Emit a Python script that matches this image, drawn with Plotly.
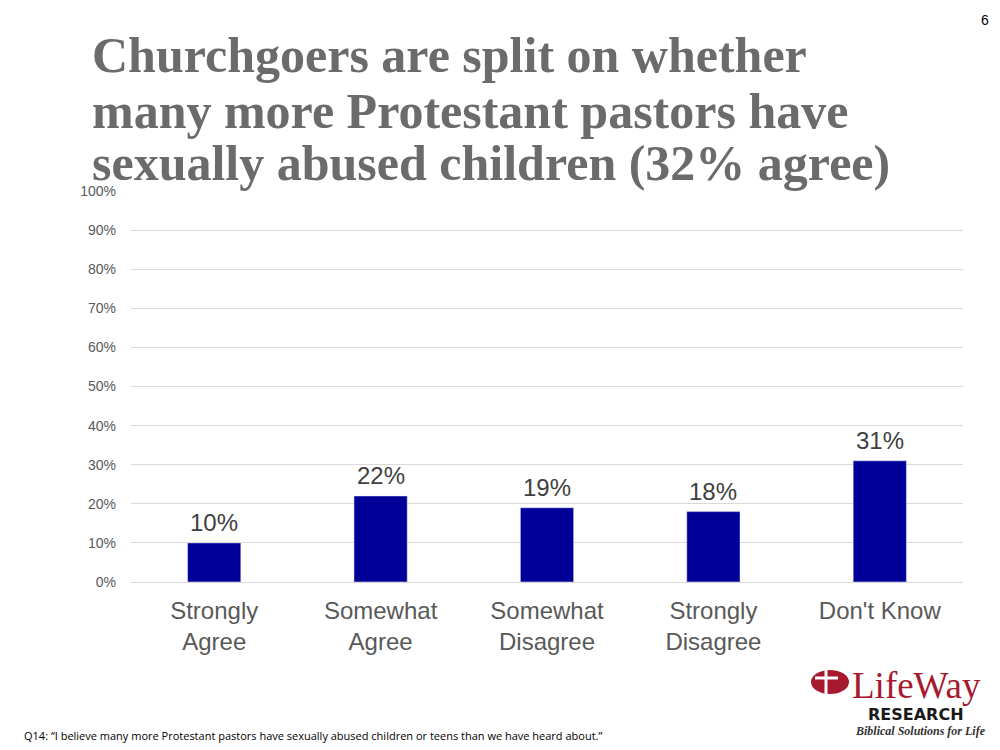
import plotly.graph_objects as go

categories = ["Strongly<br>Agree", "Somewhat<br>Agree", "Somewhat<br>Disagree", "Strongly<br>Disagree", "Don't Know"]
values = [0.10, 0.22, 0.19, 0.18, 0.31]
labels = ["10%", "22%", "19%", "18%", "31%"]
yticks = [i / 10 for i in range(11)]
title_lines = ["Churchgoers are split on whether",
               "many more Protestant pastors have",
               "sexually abused children (32% agree)"]

# The page body has an 8px default margin; work in screen pixels and convert.
OFF = 8
W, H = 1000 - OFF, 750 - OFF
L, R, T, B = 131 - OFF, 37, 191 - OFF, 168
pw = W - L - R
ph = H - T - B

def px(x):
    return (x - OFF - L) / pw

def py(y):
    return (H - B - (y - OFF)) / ph

fig = go.Figure()
fig.add_trace(go.Bar(
    x=categories, y=values, marker_color="#000099", width=0.32,
))

for c, v, t in zip(categories, values, labels):
    fig.add_annotation(x=c, y=v, text=t, showarrow=False, yanchor="bottom", yshift=5,
                       font=dict(family="Liberation Sans, Arial", size=24, color="#404040"))

fig.update_layout(
    width=W, height=H, margin=dict(l=L, r=R, t=T, b=B),
    paper_bgcolor="white", plot_bgcolor="white", showlegend=False,
    xaxis=dict(
        tickfont=dict(family="Liberation Sans, Arial", size=24, color="#595959"),
        showline=True, linecolor="#d9d9d9", linewidth=1, ticks="",
        ticklabelstandoff=7,
    ),
    yaxis=dict(
        range=[0, 1], tickvals=yticks, tickformat=".0%",
        tickfont=dict(family="Liberation Sans, Arial", size=14, color="#595959"),
        showgrid=True, gridcolor="#d9d9d9", gridwidth=1, zeroline=False,
        ticklabelstandoff=14,
    ),
)

for i, line in enumerate(title_lines):
    fig.add_annotation(text="<b>" + line + "</b>", x=px(90), y=py([25, 81, 133][i]),
                       xref="paper", yref="paper", xanchor="left", yanchor="top",
                       align="left", showarrow=False,
                       font=dict(family="Liberation Serif, Times New Roman", size=50, color="#6b6b6b"))

annotations = [
    dict(text="6", x=px(985), y=py(20), xref="paper", yref="paper", xanchor="center", yanchor="middle",
         showarrow=False, font=dict(family="Liberation Sans, Arial", size=14, color="#000000")),
    dict(text="Q14: \u201cI believe many more Protestant pastors have sexually abused children or teens than we have heard about.\u201d",
         x=px(22), y=py(735), xref="paper", yref="paper", xanchor="left", yanchor="middle",
         showarrow=False, font=dict(family="Open Sans, Liberation Sans", size=11, color="#000000")),
    dict(text="LifeWay", x=px(850), y=py(685), xref="paper", yref="paper", xanchor="left", yanchor="middle",
         showarrow=False, font=dict(family="Liberation Serif, Times New Roman", size=37, color="#a6192e")),
    dict(text="<b>RESEARCH</b>", x=px(966), y=py(714), xref="paper", yref="paper", xanchor="right", yanchor="middle",
         showarrow=False, font=dict(family="DejaVu Sans, Liberation Sans", size=16, color="#1a1a1a")),
    dict(text="<b><i>Biblical Solutions for Life</i></b>", x=px(988), y=py(731), xref="paper", yref="paper",
         xanchor="right", yanchor="middle",
         showarrow=False, font=dict(family="Liberation Serif, Times New Roman", size=12, color="#333333")),
]
for a in annotations:
    fig.add_annotation(**a)

# logo emblem
fig.add_shape(type="circle", xref="paper", yref="paper",
              x0=px(811), x1=px(849), y0=py(670), y1=py(694),
              fillcolor="#a6192e", line=dict(width=0))
fig.add_shape(type="line", xref="paper", yref="paper",
              x0=px(826), x1=px(826), y0=py(668), y1=py(696), line=dict(color="white", width=3))
fig.add_shape(type="line", xref="paper", yref="paper",
              x0=px(815), x1=px(838), y0=py(678), y1=py(678), line=dict(color="white", width=3))

fig.write_html("out.html")
